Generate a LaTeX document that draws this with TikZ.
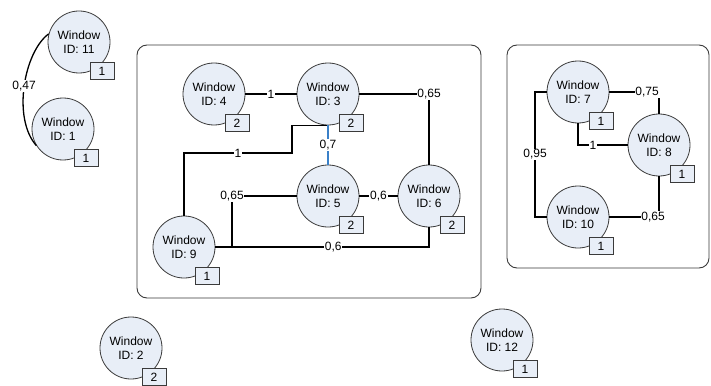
\documentclass[tikz,border=0pt]{standalone}
\usepackage{fontspec}
\setmainfont{Liberation Sans}
\definecolor{winfill}{HTML}{E8EEF7}
\definecolor{bordergray}{HTML}{3A3A3A}
\definecolor{linkblue}{HTML}{3A80C8}
\begin{document}
\begin{tikzpicture}[x=1pt,y=-1pt,
  txt/.style={font=\fontsize{12}{14}\selectfont},
  win/.style={circle, draw=bordergray, line width=0.8pt, fill=winfill, minimum size=62pt, inner sep=0pt, align=center, txt},
  badge/.style={draw=bordergray, line width=0.8pt, fill=winfill, minimum width=24pt, minimum height=17pt, inner sep=0pt, txt},
  lbl/.style={fill=white, text=black, inner sep=0.8pt, txt},
  edge/.style={line width=1.3pt, black},
  blueedge/.style={line width=1.3pt, linkblue},
  grp/.style={draw=bordergray, rounded corners=10pt, line width=0.9pt}
]
\useasboundingbox (0,0) rectangle (711,385);

% groups
\draw[grp] (137,45) rectangle (481,298);
\draw[grp] (507,45) rectangle (709,268);

% window nodes
\node[win] (n11) at (79,42) {Window\\ID: 11};
\node[win] (n1) at (63,129) {Window\\ID: 1};
\node[win] (n4) at (214,94) {Window\\ID: 4};
\node[win] (n3) at (328,94) {Window\\ID: 3};
\node[win] (n5) at (328,196) {Window\\ID: 5};
\node[win] (n6) at (429,196) {Window\\ID: 6};
\node[win] (n9) at (184,247) {Window\\ID: 9};
\node[win] (n7) at (578,92) {Window\\ID: 7};
\node[win] (n8) at (659,145) {Window\\ID: 8};
\node[win] (n10) at (578,217) {Window\\ID: 10};
\node[win] (n2) at (131,348) {Window\\ID: 2};
\node[win] (n12) at (502,340) {Window\\ID: 12};

% connectors
\draw[edge] (n11.165) .. controls (24,52) and (12,118) .. node[lbl, pos=0.5]{0,47} (n1.212);

\draw[edge] (n4) -- node[lbl]{1} (n3);
\draw[edge] (n3) -| node[lbl, pos=0.5]{0,65} (n6);
\draw[edge] (n3.south) -| (292,153) -| node[lbl, pos=0.25]{1} (n9);
\draw[blueedge] (n3.south) -- node[lbl]{0,7} (n5.north);
\draw[edge] (n5) -- node[lbl]{0,6} (n6);
\draw[edge] (n9.east) -- (232,247) |- node[lbl, pos=0.5]{0,65} (n5);
\draw[edge] (n9.east) -| node[lbl, pos=0.276]{0,6} (n6);

\draw[edge] (n7) -| node[lbl, pos=0.38]{0,75} (n8);
\draw[edge] (n7.south) |- node[lbl, pos=0.65]{1} (n8);
\draw[edge] (n7) -- (535,92) |- node[lbl, pos=0.25]{0,95} (n10);
\draw[edge] (n8.south) |- node[lbl, pos=0.56]{0,65} (n10);

% badges
\foreach \n/\v in {n11/1, n1/1, n4/2, n3/2, n5/2, n6/2, n9/1, n7/1, n8/1, n10/1, n2/2, n12/1}{
  \node[badge] (b\n) at ([shift={(23,29)}]\n.center) {\v};
}
\end{tikzpicture}
\end{document}
